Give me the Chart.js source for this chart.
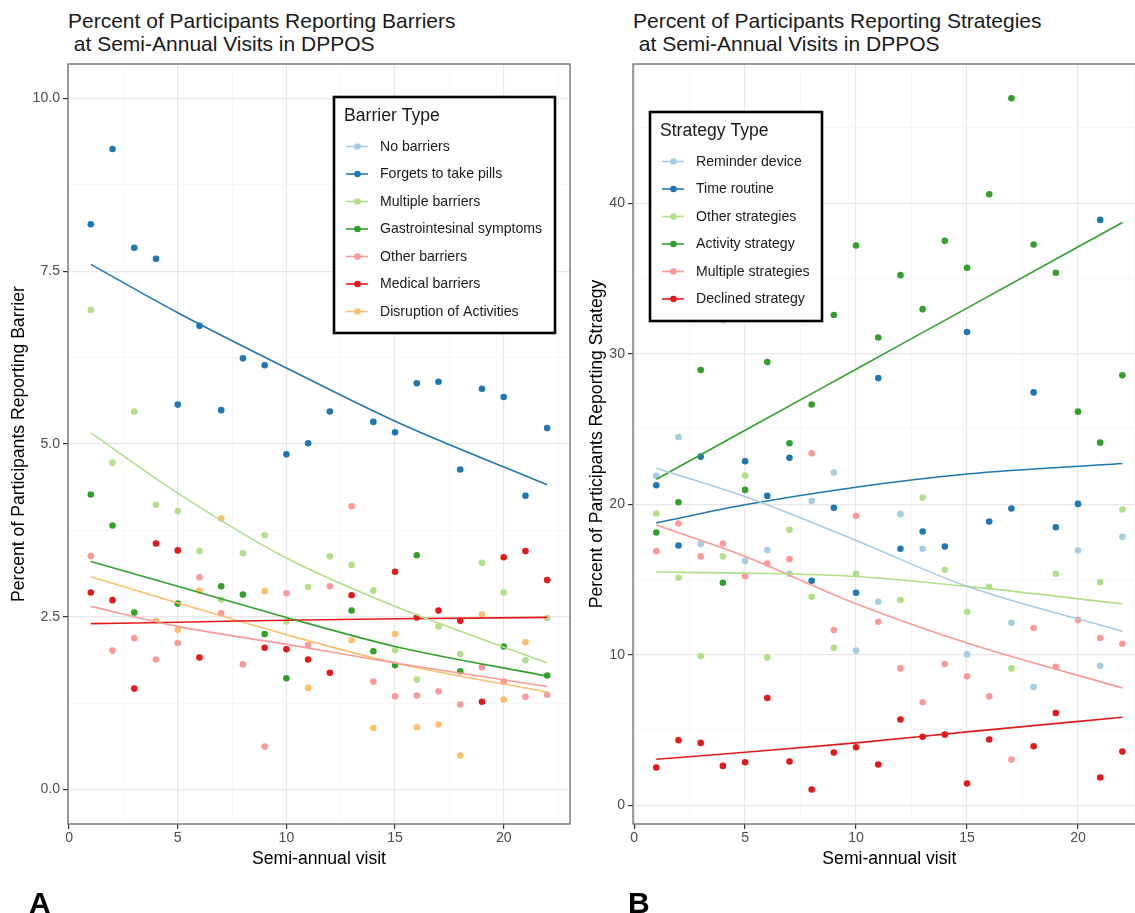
<!DOCTYPE html>
<html>
<head>
<meta charset="utf-8">
<script src="https://cdn.jsdelivr.net/npm/chart.js@4.4.1/dist/chart.umd.min.js"></script>
<style>
  html, body { margin: 0; padding: 0; background: #fff; overflow: hidden; }
  body { width: 1135px; height: 913px; position: relative; font-family: "Liberation Sans", Arial, sans-serif; }
  canvas { position: absolute; top: 0; }
  .title { position: absolute; font-size: 21px; line-height: 23px; color: #1a1a1a; white-space: pre; }
  .tag { position: absolute; font-size: 30px; line-height: 30px; font-weight: bold; color: #000; }
</style>
</head>
<body>
<div class="title" style="left:68px; top:8.5px">Percent of Participants Reporting Barriers
 at Semi-Annual Visits in DPPOS</div>
<div class="title" style="left:633px; top:8.5px">Percent of Participants Reporting Strategies
 at Semi-Annual Visits in DPPOS</div>
<canvas id="chartA" width="575" height="913" style="left:0"></canvas>
<canvas id="chartB" width="575" height="913" style="left:575px"></canvas>
<div class="tag" style="left:29px; top:888px">A</div>
<div class="tag" style="left:628px; top:888px">B</div>

<script>
// --- donnees ---
const visits = [1, 2, 3, 4, 5, 6, 7, 8, 9, 10, 11, 12, 13, 14, 15, 16, 17, 18, 19, 20, 21, 22];
const xTicks = [0, 5, 10, 15, 20];
const xMinor = [2.5, 7.5, 12.5, 17.5, 22.5];
const yTicksA = [0, 2.5, 5, 7.5, 10];
const yLabelsA = ["0.0", "2.5", "5.0", "7.5", "10.0"];
const yMinorA = [1.25, 3.75, 6.25, 8.75];
const yTicksB = [0, 10, 20, 30, 40];
const yLabelsB = ["0", "10", "20", "30", "40"];
const yMinorB = [5, 15, 25, 35, 45];
const fitX = [1, 5, 10, 15, 22];

// A : barrieres
const barrierLabels = ["No barriers", "Forgets to take pills", "Multiple barriers", "Gastrointesinal symptoms",
  "Other barriers", "Medical barriers", "Disruption of Activities"];
const barrierColors = ["#A6CEE3", "#1F78B4", "#B2DF8A", "#33A02C", "#FB9A99", "#E31A1C", "#FDBF6F"];
const noBarriers = []; // hors de la fenetre 0-10, rien de visible
const forgetsPills = [8.18, 9.27, 7.84, 7.68, 5.57, 6.71, 5.49, 6.24, 6.14, 4.85, 5.01, 5.47, null, 5.32, 5.17, 5.88, 5.90, 4.63, 5.80, 5.68, 4.25, 5.23];
const multipleBarriers = [6.94, 4.73, 5.47, 4.12, 4.03, 3.45, 2.75, 3.42, 3.68, 2.43, 2.93, 3.37, 3.25, 2.88, 2.02, 1.59, 2.36, 1.96, 3.28, 2.85, 1.87, 2.48];
const giSymptoms = [4.27, 3.82, 2.56, null, 2.69, null, 2.94, 2.82, 2.25, 1.61, null, null, 2.59, 2.00, 1.80, 3.39, null, 1.71, null, 2.07, null, 1.65];
const otherBarriers = [3.38, 2.01, 2.19, 1.88, 2.12, 3.07, 2.55, 1.81, 0.62, 2.84, 2.09, 2.94, 4.10, 1.56, 1.35, 1.36, 1.42, 1.23, 1.77, 1.56, 1.34, 1.37];
const medicalBarriers = [2.85, 2.74, 1.46, 3.56, 3.46, 1.91, null, null, 2.05, 2.03, 1.88, 1.69, 2.81, null, 3.15, 2.49, 2.59, 2.44, 1.27, 3.36, 3.45, 3.03];
const disruption = [null, null, null, 2.44, 2.31, 2.88, 3.92, null, 2.87, null, 1.47, null, 2.16, 0.89, 2.25, 0.90, 0.94, 0.49, 2.53, 1.30, 2.13, null];
// courbes de tendance (lues aux visites fitX)
const fitNoBarriers = [];
const fitForgets = [7.60, 6.90, 6.10, 5.33, 4.41];
const fitMultipleB = [5.16, 4.29, 3.35, 2.65, 1.83];
const fitGI = [3.30, 2.94, 2.49, 2.07, 1.64];
const fitOtherB = [2.65, 2.36, 2.10, 1.83, 1.49];
const fitMedical = [2.40, 2.42, 2.45, 2.47, 2.49];
const fitDisruption = [3.08, 2.70, 2.24, 1.83, 1.41];

// B : strategies
const strategyLabels = ["Reminder device", "Time routine", "Other strategies", "Activity strategy",
  "Multiple strategies", "Declined strategy"];
const strategyColors = ["#A6CEE3", "#1F78B4", "#B2DF8A", "#33A02C", "#FB9A99", "#E31A1C"];
const reminderDevice = [21.88, 24.47, 17.35, 32.23, 16.22, 16.95, 15.38, 20.22, 22.10, 10.27, 13.52, 19.34, 17.04, null, 10.02, null, 12.12, 7.85, null, 16.92, 9.27, 17.83];
const timeRoutine = [21.26, 17.26, 23.16, null, 22.85, 20.55, 23.08, 14.91, 19.76, 14.12, 28.38, 17.04, 18.19, 17.19, 31.44, 18.85, 19.71, 27.43, 18.47, 20.02, 38.89, null];
const otherStrategies = [19.38, 15.11, 9.91, 16.53, 21.90, 9.82, 18.30, 13.85, 10.46, 15.38, null, 13.63, 20.44, 15.64, 12.85, 14.51, 9.09, null, 15.38, null, 14.82, 19.65];
const activityStrategy = [18.12, 20.13, 28.92, 14.78, 20.95, 29.45, 24.05, 26.62, 32.57, 37.19, 31.08, 35.22, 32.96, 37.50, 35.71, 40.60, 46.97, 37.26, 35.38, 26.15, 24.09, 28.56];
const multipleStrategies = [16.88, 18.72, 16.53, 17.39, 15.22, 16.06, 16.35, 23.38, 11.64, 19.23, 12.19, 9.09, 6.84, 9.38, 8.56, 7.23, 3.03, 11.77, 9.20, 12.30, 11.11, 10.73];
const declinedStrategy = [2.50, 4.31, 4.14, 2.61, 2.85, 7.12, 2.90, 1.04, 3.50, 3.85, 2.70, 5.69, 4.54, 4.69, 1.44, 4.36, null, 3.92, 6.13, null, 1.84, 3.56];
const fitReminder = [22.39, 20.51, 17.59, 14.54, 11.55];
const fitTime = [18.76, 19.96, 21.13, 22.01, 22.70];
const fitOtherS = [15.49, 15.42, 15.20, 14.54, 13.38];
const fitActivity = [21.66, 24.91, 28.97, 33.03, 38.72];
const fitMultipleS = [18.61, 16.53, 13.38, 10.77, 7.79];
const fitDeclined = [3.05, 3.52, 4.14, 4.87, 5.84];

Chart.defaults.font.family = '"Liberation Sans", Arial, sans-serif';

const pts = vals => visits.map((v, i) => ({ x: v, y: vals[i] })).filter(p => p.y !== null && p.y !== undefined);
const fitPts = vals => vals.map((y, i) => ({ x: fitX[i], y: y }));

function buildDatasets(labels, colors, series, fits) {
  const out = [];
  series.forEach((s, i) => {
    out.push({
      type: "scatter", label: labels[i], data: pts(s),
      backgroundColor: colors[i], pointRadius: 3.3, pointBorderWidth: 0, pointHoverRadius: 3.3,
      order: 50 - i
    });
  });
  fits.forEach((f, i) => {
    out.push({
      type: "line", label: labels[i] + " fit", data: fitPts(f),
      borderColor: colors[i], borderWidth: 1.6, pointRadius: 0, fill: false,
      cubicInterpolationMode: "monotone", order: 0
    });
  });
  return out;
}

// cadre du panneau + legende encadree
const panelBox = {
  id: "panelBox",
  afterDraw(chart, args, o) {
    const { ctx, chartArea: a } = chart;
    ctx.save();
    ctx.strokeStyle = "#6b6b6b";
    ctx.lineWidth = 1.3;
    ctx.strokeRect(a.left, a.top, a.right - a.left, a.bottom - a.top);

    ctx.fillStyle = "#fff";
    ctx.fillRect(o.x, o.y, o.w, o.h);
    ctx.strokeStyle = "#000";
    ctx.lineWidth = 2.6;
    ctx.strokeRect(o.x, o.y, o.w, o.h);
    ctx.textBaseline = "middle";
    ctx.textAlign = "left";
    ctx.fillStyle = "#1a1a1a";
    ctx.font = '17.6px "Liberation Sans", Arial, sans-serif';
    ctx.fillText(o.title, o.x + 10, o.y + 19);
    ctx.font = '14.1px "Liberation Sans", Arial, sans-serif';
    o.labels.forEach((lab, i) => {
      const yy = o.y + 49.5 + i * 27.5;
      ctx.strokeStyle = o.colors[i];
      ctx.lineWidth = 1.6;
      ctx.beginPath();
      ctx.moveTo(o.x + 12, yy);
      ctx.lineTo(o.x + 34, yy);
      ctx.stroke();
      ctx.fillStyle = o.colors[i];
      ctx.beginPath();
      ctx.arc(o.x + 23.5, yy, 3.3, 0, Math.PI * 2);
      ctx.fill();
      ctx.fillStyle = "#1a1a1a";
      ctx.fillText(lab, o.x + 46, yy + 0.5);
    });
    ctx.restore();
  }
};

function gridOpts(majors) {
  const isMajor = ctx => ctx.tick && majors.includes(ctx.tick.value);
  return {
    color: ctx => isMajor(ctx) ? "#e8e8e8" : "#f3f3f3",
    lineWidth: ctx => isMajor(ctx) ? 1.2 : 0.7,
    tickColor: ctx => isMajor(ctx) ? "#333" : "rgba(0,0,0,0)",
    tickLength: 5,
    drawTicks: true
  };
}

function makeChart(id, cfg) {
  return new Chart(document.getElementById(id), {
    data: { datasets: cfg.datasets },
    options: {
      responsive: false,
      animation: false,
      devicePixelRatio: 1,
      layout: { padding: cfg.padding },
      plugins: { legend: { display: false }, tooltip: { enabled: false }, panelBox: cfg.legend },
      scales: {
        x: {
          type: "linear", min: -0.05, max: 23.05,
          afterBuildTicks: s => { s.ticks = xTicks.concat(xMinor).sort((a, b) => a - b).map(v => ({ value: v })); },
          afterFit: s => { s.height = 48; },
          ticks: {
            autoSkip: false, maxRotation: 0, padding: 1, color: "#4d4d4d", font: { size: 14.1 },
            callback: v => xTicks.includes(v) ? String(v) : ""
          },
          grid: gridOpts(xTicks),
          border: { display: false },
          title: { display: true, text: "Semi-annual visit", color: "#000", font: { size: 17.6 }, padding: { top: 0, bottom: 2 } }
        },
        y: {
          type: "linear", min: cfg.yMin, max: cfg.yMax,
          afterBuildTicks: s => { s.ticks = cfg.yTicks.concat(cfg.yMinor).sort((a, b) => a - b).map(v => ({ value: v })); },
          afterFit: s => { s.width = cfg.yWidth; },
          ticks: {
            autoSkip: false, padding: 3, color: "#4d4d4d", font: { size: 14.1 },
            callback: v => { const k = cfg.yTicks.indexOf(v); return k >= 0 ? cfg.yLabels[k] : ""; }
          },
          grid: gridOpts(cfg.yTicks),
          border: { display: false },
          title: { display: true, text: cfg.yTitle, color: "#000", font: { size: 17.6 }, padding: { top: cfg.yTitlePad, bottom: 0 } }
        }
      }
    },
    plugins: [panelBox]
  });
}

makeChart("chartA", {
  datasets: buildDatasets(barrierLabels, barrierColors,
    [noBarriers, forgetsPills, multipleBarriers, giSymptoms, otherBarriers, medicalBarriers, disruption],
    [fitNoBarriers, fitForgets, fitMultipleB, fitGI, fitOtherB, fitMedical, fitDisruption]),
  padding: { top: 64, right: 5, bottom: 41, left: 0 },
  yMin: -0.5, yMax: 10.5, yTicks: yTicksA, yLabels: yLabelsA, yMinor: yMinorA, yWidth: 68,
  yTitle: "Percent of Participants Reporting Barrier", yTitlePad: 8.5,
  legend: { x: 334, y: 97, w: 221, h: 236, title: "Barrier Type", labels: barrierLabels, colors: barrierColors }
});

makeChart("chartB", {
  datasets: buildDatasets(strategyLabels, strategyColors,
    [reminderDevice, timeRoutine, otherStrategies, activityStrategy, multipleStrategies, declinedStrategy],
    [fitReminder, fitTime, fitOtherS, fitActivity, fitMultipleS, fitDeclined]),
  padding: { top: 64, right: 4.3, bottom: 41, left: 0 },
  yMin: -1.25, yMax: 49.25, yTicks: yTicksB, yLabels: yLabelsB, yMinor: yMinorB, yWidth: 58,
  yTitle: "Percent of Participants Reporting Strategy", yTitlePad: 11.5,
  legend: { x: 75, y: 112, w: 172, h: 209, title: "Strategy Type", labels: strategyLabels, colors: strategyColors }
});
</script>
</body>
</html>
